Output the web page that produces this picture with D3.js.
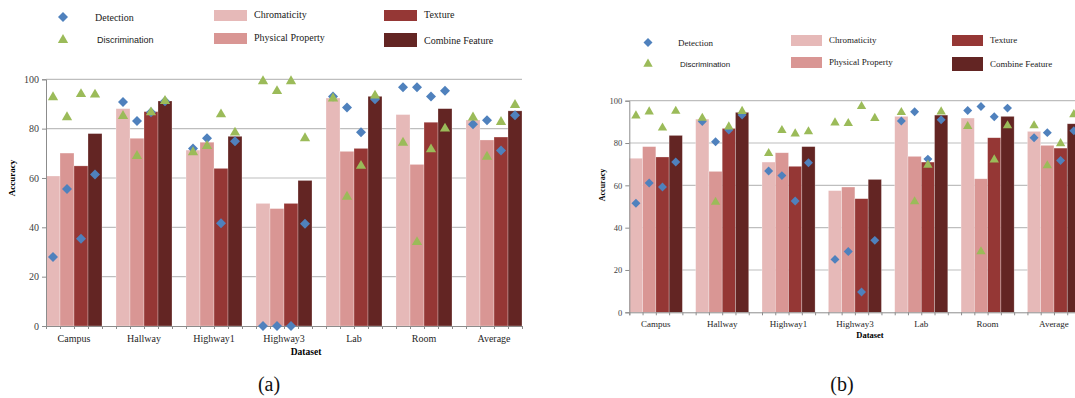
<!DOCTYPE html>
<html>
<head>
<meta charset="utf-8">
<script src="https://cdn.jsdelivr.net/npm/d3@7"></script>
<style>
  body { margin: 0; background: #fff; }
  svg { display: block; }
</style>
</head>
<body>
<div id="chart"></div>
<script>
const categories = ['Campus', 'Hallway', 'Highway1', 'Highway3', 'Lab', 'Room', 'Average'];
const features = ['Chromaticity', 'Physical Property', 'Texture', 'Combine Feature'];
const yTicks = [0, 20, 40, 60, 80, 100];

// panel (a)
const chromaticityA = [60.8, 88.1, 71.3, 49.7, 92.4, 85.7, 83.5];
const physicalA = [70.1, 76.1, 74.5, 47.6, 70.8, 65.5, 75.4];
const textureA = [64.9, 86.9, 63.9, 49.7, 72.0, 82.6, 76.6];
const combineA = [78.0, 91.2, 76.9, 59.0, 93.1, 88.1, 87.2];
const detectionA = [
  [28.0, 55.5, 35.4, 61.4], [90.8, 83.1, 86.6, 91.1], [72.0, 76.1, 41.6, 74.9], [0, 0, 0, 41.4],
  [93.0, 88.6, 78.5, 91.9], [96.8, 96.8, 93.0, 95.4], [81.8, 83.4, 71.1, 85.4]
];
const discriminationA = [
  [92.7, 84.6, 94.0, 93.8], [85.1, 68.9, 86.6, 91.2], [70.4, 73.0, 85.8, 78.4], [99.2, 95.2, 99.2, 76.1],
  [92.2, 52.4, 64.9, 93.4], [74.3, 34.0, 71.6, 80.0], [84.5, 68.6, 82.7, 89.6]
];

// panel (b)
const chromaticityB = [72.8, 91.3, 71.0, 57.5, 92.6, 91.8, 85.5];
const physicalB = [78.3, 66.6, 75.4, 59.2, 73.7, 63.1, 78.9];
const textureB = [73.4, 86.9, 69.0, 53.7, 71.0, 82.5, 77.6];
const combineB = [83.6, 94.5, 78.3, 62.8, 93.2, 92.6, 89.1];
const detectionB = [
  [51.5, 61.1, 59.2, 71.0], [90.2, 80.6, 86.1, 93.2], [66.8, 64.6, 52.6, 70.7], [25.0, 28.7, 9.6, 34.0],
  [90.4, 94.8, 72.4, 91.0], [95.4, 97.3, 92.4, 96.5], [82.5, 84.9, 71.7, 85.8]
];
const discriminationB = [
  [92.9, 94.8, 87.2, 95.1], [91.8, 52.1, 87.7, 95.0], [75.1, 86.0, 84.4, 85.4], [89.6, 89.3, 97.3, 91.7],
  [94.5, 52.3, 69.6, 94.8], [87.9, 28.7, 72.1, 88.2], [88.2, 69.3, 79.8, 93.5]
];

const colors = ['#e6b9b8', '#d99694', '#953735', '#632523'];
const blue = '#4f81bd';
const green = '#9bbb59';
const serif = '"Liberation Serif", "Times New Roman", serif';
const sans = '"Liberation Sans", Arial, sans-serif';

const W = 1075, H = 398;
const svg = d3.select('#chart').append('svg').attr('width', W).attr('height', H);
svg.append('rect').attr('width', W).attr('height', H).attr('fill', '#fff');

function drawPanel(cfg) {
  const bars = [cfg.chrom, cfg.phys, cfg.tex, cfg.comb];
  // each group = 4 bars + 1 empty slot, 34 slots in total
  const nSlots = categories.length * 5 - 1;
  const xs = d3.scaleLinear().domain([0, nSlots]).range([cfg.left, cfg.right]);
  const y = d3.scaleLinear().domain([0, 100]).range([cfg.bottom, cfg.top]);
  const slotW = xs(1) - xs(0);
  const g = svg.append('g');

  // gridlines
  g.append('g').selectAll('line').data(yTicks.slice(1)).join('line')
    .attr('x1', cfg.left).attr('x2', cfg.gridRight)
    .attr('y1', d => y(d)).attr('y2', d => y(d))
    .attr('stroke', '#bebebe').attr('stroke-width', 1.2);

  // bars
  categories.forEach((c, gi) => {
    g.append('g').selectAll('rect').data(bars.map(b => b[gi])).join('rect')
      .attr('x', (d, k) => xs(gi * 5 + k))
      .attr('width', slotW)
      .attr('y', d => y(d))
      .attr('height', d => y(0) - y(d))
      .attr('fill', (d, k) => colors[k])
      .attr('stroke', 'rgba(255,255,255,0.45)').attr('stroke-width', 0.6);
  });

  // axes
  const yAxis = g.append('g')
    .attr('transform', `translate(${cfg.left},0)`)
    .call(d3.axisLeft(y).tickValues(yTicks).tickSize(4).tickPadding(3));
  yAxis.select('.domain').attr('stroke', '#8c8c8c');
  yAxis.selectAll('.tick line').attr('stroke', '#8c8c8c');
  yAxis.selectAll('text').attr('font-family', serif).attr('font-size', cfg.tickFont).attr('fill', '#404040');

  const xAxis = g.append('g')
    .attr('transform', `translate(0,${cfg.bottom})`)
    .call(d3.axisBottom(xs).tickValues(d3.range(nSlots + 1)).tickSize(3).tickFormat(''));
  xAxis.select('.domain').attr('stroke', '#8c8c8c');
  xAxis.selectAll('.tick line').attr('stroke', '#8c8c8c');

  g.append('g').selectAll('text').data(categories).join('text')
    .attr('x', (d, i) => xs(i * 5 + 2))
    .attr('y', cfg.bottom + cfg.catDy)
    .attr('text-anchor', 'middle')
    .attr('font-family', serif).attr('font-size', cfg.catFont).attr('fill', '#262626')
    .text(d => d);

  g.append('text')
    .attr('x', cfg.dataX).attr('y', cfg.bottom + cfg.dataDy)
    .attr('text-anchor', 'middle')
    .attr('font-family', serif).attr('font-size', cfg.catFont - 0.5).attr('font-weight', 'bold')
    .text('Dataset');

  g.append('text')
    .attr('transform', `translate(${cfg.accX},${cfg.accY}) rotate(-90)`)
    .attr('text-anchor', 'middle')
    .attr('font-family', serif).attr('font-size', cfg.catFont - 1).attr('font-weight', 'bold')
    .text('Accuracy');

  // markers
  const diamond = d3.symbol().type(d3.symbolSquare).size(cfg.diamondSize);
  const triangle = d3.symbol().type(d3.symbolTriangle).size(cfg.triSize);
  categories.forEach((c, gi) => {
    g.append('g').selectAll('path').data(cfg.det[gi]).join('path')
      .attr('d', diamond)
      .attr('transform', (d, k) => `translate(${xs(gi * 5 + k + 0.5)},${y(d)}) rotate(45)`)
      .attr('fill', blue);
  });
  categories.forEach((c, gi) => {
    g.append('g').selectAll('path').data(cfg.disc[gi]).join('path')
      .attr('d', triangle)
      .attr('transform', (d, k) => `translate(${xs(gi * 5 + k + 0.5)},${y(d)})`)
      .attr('fill', green);
  });

  // legend
  const L = cfg.legend;
  g.append('path').attr('d', diamond)
    .attr('transform', `translate(${L.markX},${L.row1}) rotate(45)`).attr('fill', blue);
  g.append('path').attr('d', triangle)
    .attr('transform', `translate(${L.markX},${L.row2})`).attr('fill', green);
  g.append('text').attr('x', L.detX).attr('y', L.row1).attr('dy', '0.35em')
    .attr('font-family', serif).attr('font-size', L.font).attr('fill', '#1a1a1a').text('Detection');
  g.append('text').attr('x', L.discX).attr('y', L.row2).attr('dy', '0.35em')
    .attr('font-family', sans).attr('font-size', L.font - 1).attr('fill', '#1a1a1a').text('Discrimination');

  const sw = features.map((f, k) => ({
    f, k,
    x: k < 2 ? L.col1 : L.col2,
    y: k % 2 === 0 ? L.sw1 : L.sw2,
    h: k === 3 ? L.swH + 3 : L.swH
  }));
  g.append('g').selectAll('rect').data(sw).join('rect')
    .attr('x', d => d.x).attr('y', d => d.y)
    .attr('width', L.swW).attr('height', d => d.h)
    .attr('fill', d => colors[d.k]);
  g.append('g').selectAll('text').data(sw).join('text')
    .attr('x', d => d.x + L.swW + L.gap)
    .attr('y', d => d.k === 3 ? d.y + d.h / 2 : d.y + L.swH / 2 - 1)
    .attr('dy', '0.35em')
    .attr('font-family', serif).attr('font-size', L.font).attr('fill', '#1a1a1a')
    .text(d => d.f);

  svg.append('text')
    .attr('x', cfg.capX).attr('y', 391)
    .attr('text-anchor', 'middle')
    .attr('font-family', serif).attr('font-size', 20).attr('fill', '#111')
    .text(cfg.caption);
}

drawPanel({
  chrom: chromaticityA, phys: physicalA, tex: textureA, comb: combineA,
  det: detectionA, disc: discriminationA,
  left: 46, right: 522, top: 79.3, bottom: 326, gridRight: 522,
  tickFont: 10, catFont: 10, catDy: 16, dataX: 306, dataDy: 29, accX: 15, accY: 178,
  diamondSize: 50, triSize: 46,
  capX: 269, caption: '(a)',
  legend: { markX: 63, row1: 17, row2: 40, detX: 95, discX: 97, font: 10,
            col1: 214, col2: 384, sw1: 10, sw2: 33, swW: 33, swH: 11, gap: 7 }
});

drawPanel({
  chrom: chromaticityB, phys: physicalB, tex: textureB, comb: combineB,
  det: detectionB, disc: discriminationB,
  left: 629.3, right: 1080.5, top: 100.7, bottom: 312.3, gridRight: 1075,
  tickFont: 8.5, catFont: 9, catDy: 15, dataX: 870, dataDy: 26, accX: 605, accY: 185,
  diamondSize: 40, triSize: 38,
  capX: 842, caption: '(b)',
  legend: { markX: 648, row1: 42.5, row2: 64, detX: 678, discX: 680, font: 9,
            col1: 791, col2: 952, sw1: 35, sw2: 57, swW: 31, swH: 11, gap: 7 }
});
</script>
</body>
</html>
